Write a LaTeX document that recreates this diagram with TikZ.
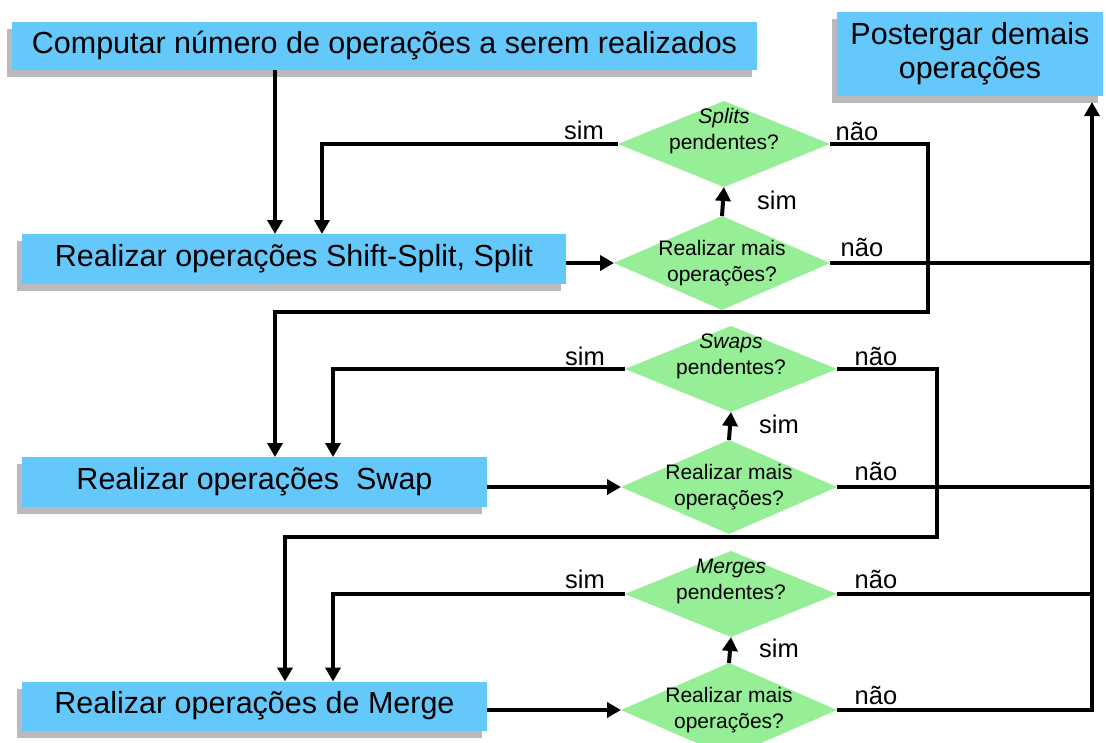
\documentclass[tikz,border=0pt]{standalone}
\usepackage{fontspec}
\setmainfont{Liberation Sans}
\usetikzlibrary{arrows.meta,shapes.geometric,shadows}

\definecolor{boxblue}{RGB}{100,200,250}
\definecolor{decgreen}{RGB}{150,238,150}
\definecolor{shadowgray}{RGB}{185,185,190}

\begin{document}
\begin{tikzpicture}[x=1pt,y=-1pt,
  procbox/.style={rectangle, fill=boxblue, inner sep=0pt, outer sep=0pt,
    font=\fontsize{30.5}{34}\selectfont, text=black,
    drop shadow={shadow xshift=-5pt, shadow yshift=-7pt, fill=shadowgray, opacity=1}},
  decision/.style={diamond, fill=decgreen, inner sep=0pt, outer sep=0pt},
  dtext/.style={font=\fontsize{21}{26}\selectfont, align=center, text=black},
  flow/.style={line width=4pt, draw=black},
  arr/.style={flow, -{Triangle[length=14pt,width=15pt]}},
  tag/.style={font=\fontsize{25.5}{30}\selectfont, text=black, inner sep=0pt},
]
\fill[white] (0,0) rectangle (1106,742);
\useasboundingbox (0,0) rectangle (1106,742);

% process boxes
\node[procbox, minimum width=745pt, minimum height=48pt] (b1) at (384.5,46)
  {Computar número de operações a serem realizados};
\node[procbox, minimum width=266pt, minimum height=84pt, align=center] (post) at (970,54)
  {Postergar demais\\operações};
\node[procbox, minimum width=544pt, minimum height=50pt] (b2) at (294,259)
  {Realizar operações Shift-Split, Split};
\node[procbox, minimum width=465pt, minimum height=50pt] (b3) at (254.5,482)
  {Realizar operações~ Swap};
\node[procbox, minimum width=465pt, minimum height=49pt] (b4) at (254.5,706)
  {Realizar operações de Merge};

% decisions
\node[decision, minimum width=212pt, minimum height=86pt,
  label={[dtext, yshift=13pt]center:\textit{Splits}\\pendentes?}] (d1) at (724,144) {};
\node[decision, minimum width=216pt, minimum height=94pt,
  label={[dtext]center:Realizar mais\\operações?}] (d2) at (722,263) {};
\node[decision, minimum width=212pt, minimum height=86pt,
  label={[dtext, yshift=13pt]center:\textit{Swaps}\\pendentes?}] (d3) at (731,369) {};
\node[decision, minimum width=216pt, minimum height=94pt,
  label={[dtext]center:Realizar mais\\operações?}] (d4) at (729,487) {};
\node[decision, minimum width=212pt, minimum height=86pt,
  label={[dtext, yshift=13pt]center:\textit{Merges}\\pendentes?}] (d5) at (731,594) {};
\node[decision, minimum width=216pt, minimum height=94pt,
  label={[dtext]center:Realizar mais\\operações?}] (d6) at (729,710) {};

% routing columns and bends
\coordinate (xa) at (275,0);
\coordinate (xb) at (322,0);
\coordinate (xc) at (333,0);
\coordinate (xd) at (285,0);
\coordinate (xr) at (1092,0);
\coordinate (j1) at (928,312);
\coordinate (j2) at (937,537);

% branch labels
\node[tag] (s1) at (584,130) {sim};
\node[tag] (n1) at (857,131) {não};
\node[tag] (s2) at (777,200) {sim};
\node[tag] (n2) at (862,247) {não};
\node[tag] (s3) at (585,356) {sim};
\node[tag] (n3) at (876,356) {não};
\node[tag] (s4) at (779,424) {sim};
\node[tag] (n4) at (876,471) {não};
\node[tag] (s5) at (585,579) {sim};
\node[tag] (n5) at (876,579) {não};
\node[tag] (s6) at (779,648) {sim};
\node[tag] (n6) at (876,695) {não};

% connectors
\draw[arr] (b1.south -| xa) -- (b2.north -| xa);
\draw[arr] (d1.west) -| (b2.north -| xb);
\draw[arr] (d1.east) -| (j1) -| (b3.north -| xa);
\draw[arr] (b2.east |- d2.west) -- (d2.west);
\draw[arr] (d2.north) -- (d1.south);
\draw[flow] (d2.east) -- (d2.east -| xr);

\draw[arr] (d3.west) -| (b3.north -| xc);
\draw[arr] (d3.east) -| (j2) -| (b4.north -| xd);
\draw[arr] (b3.east |- d4.west) -- (d4.west);
\draw[arr] (d4.north) -- (d3.south);
\draw[flow] (d4.east) -- (d4.east -| xr);

\draw[arr] (d5.west) -| (b4.north -| xc);
\draw[flow] (d5.east) -- (d5.east -| xr);
\draw[arr] (b4.east |- d6.west) -- (d6.west);
\draw[arr] (d6.north) -- (d5.south);
\draw[arr, shorten >=6pt] (d6.east) -| (post.south -| xr);
\end{tikzpicture}
\end{document}
